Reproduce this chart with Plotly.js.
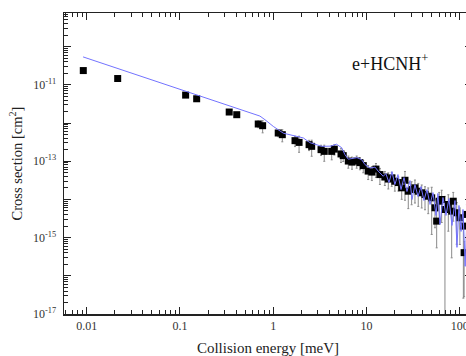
<!DOCTYPE html>
<html>
<head>
<meta charset="utf-8">
<script src="https://cdn.plot.ly/plotly-3.0.1.min.js"></script>
<style>
html,body{margin:0;padding:0;overflow:hidden;background:#fff;width:466px;height:356px;}
#chart{width:480px;height:356px;}
</style>
</head>
<body>
<div id="chart"></div>
<script>
// Measured cross sections (collision energy in meV, cross section in cm^2)
var expEnergy = [0.0092,0.0215,0.115,0.151,0.337,0.406,0.690,0.769,1.13,1.25,1.71,1.89,2.42,2.58,3.25,3.52,4.23,4.51,5.32,5.62,6.37,6.98,7.83,8.49,9.22,10.4,11.4,12.6,13.9,15.7,17.1,18.6,20.1,21.9,23.8,25.8,28.0,30.4,33.0,35.8,39.0,42.3,45.8,49.9,54.1,56.4,60.1,63.8,69.2,75.2,81.7,84.9,92.5,100,109,111,119];
var expSigma = [2.36e-11,1.46e-11,5.38e-12,4.31e-12,1.94e-12,1.65e-12,9.42e-13,8.51e-13,5.48e-13,4.95e-13,3.45e-13,3.11e-13,2.71e-13,2.45e-13,2.01e-13,1.81e-13,1.81e-13,2.07e-13,1.55e-13,1.40e-13,1.01e-13,9.47e-14,1.01e-13,9.18e-14,7.67e-14,5.52e-14,5.19e-14,6.22e-14,4.47e-14,3.85e-14,3.41e-14,3.66e-14,2.99e-14,2.76e-14,2.01e-14,3.17e-14,1.64e-14,1.81e-14,2.01e-14,1.64e-14,1.49e-14,1.34e-14,1.21e-14,1.10e-14,6.04e-15,2.70e-15,8.97e-15,9.93e-15,5.45e-15,7.36e-15,4.92e-15,8.97e-15,4.47e-15,3.31e-15,2.00e-15,4.04e-16,4.04e-15];
// relative uncertainty of each measurement
var expRelErr = [0.05,0.05,0.05,0.05,0.1,0.1,0.2,0.35,0.2,0.35,0.3,0.45,0.3,0.45,0.3,0.45,0.4,0.3,0.4,0.3,0.35,0.35,0.35,0.35,0.35,0.4,0.4,0.4,0.45,0.4,0.45,0.4,0.45,0.4,0.5,0.7,0.65,0.6,0.6,0.6,0.6,0.6,0.65,0.89,0.7,0.8,0.7,0.75,1.2,0.8,0.94,0.7,0.85,0.8,0.987,0.93,0.8];

// Theoretical cross section
var thEnergy = [0.00915,0.0611,0.719,0.815,1.0,1.28,1.71,2.10,2.47,3.30,4.15,4.75,5.41,5.86,6.37,7.15,7.89,8.85,9.61,10.9,12.3,13.3,15.1,16.1,17.4,18.7,20.1,21.7,23.4,25.2,27.1,29.2,30.7,33.0,35.6,38.3,41.2,44.4,47.9,51.5,55.5,58.2,61.2,65.9,71.0,76.4,82.3,88.7,93.1,97.8,103,108,114,119];
var thSigma = [5.38e-11,1.15e-11,1.52e-12,1.22e-12,8.15e-13,5.42e-13,4.47e-13,4.06e-13,3.06e-13,2.45e-13,2.48e-13,2.79e-13,2.26e-13,1.49e-13,1.13e-13,1.17e-13,1.24e-13,1.10e-13,8.15e-14,6.61e-14,7.02e-14,5.52e-14,4.04e-14,4.74e-14,2.76e-14,5.35e-14,2.45e-14,4.47e-14,1.81e-14,3.73e-14,1.61e-14,3.11e-14,9.93e-15,2.45e-14,1.19e-14,2.17e-14,9.35e-15,1.81e-14,7.36e-15,1.51e-14,3.80e-15,1.43e-14,2.21e-15,1.12e-14,3.80e-15,1.05e-14,2.08e-15,9.35e-15,5.55e-16,6.93e-15,1.45e-15,5.45e-15,1.77e-16,3.36e-15];

var xTickVals = [0.01,0.1,1,10,100];
var xTickText = ['0.01','0.1','1','10','100'];
var yTickVals = [1e-17,1e-15,1e-13,1e-11];
var yTickText = ['10<sup>-17</sup>','10<sup>-15</sup>','10<sup>-13</sup>','10<sup>-11</sup>'];
var yUnlabeledVals = [1e-16,1e-14,1e-12,1e-10];

var expErr = expSigma.map(function(s,i){return s*expRelErr[i];});

var font = 'Liberation Serif, Times New Roman, serif';
var yRange = [-17, -9.12];

var traces = [
  {
    x: expEnergy, y: expSigma, type: 'scatter', mode: 'markers',
    marker: {symbol: 'square', size: 7, color: '#000'},
    error_y: {type: 'data', array: expErr, visible: true, color: '#8a8a8a', thickness: 1, width: 1},
    showlegend: false, hoverinfo: 'skip'
  },
  {
    x: thEnergy, y: thSigma, type: 'scatter', mode: 'lines',
    line: {color: 'rgb(115,115,255)', width: 1},
    showlegend: false, hoverinfo: 'skip'
  },
  {x: [], y: [], yaxis: 'y2', type: 'scatter', mode: 'markers', showlegend: false, hoverinfo: 'skip'}
];

var axisCommon = {
  type: 'log', showgrid: false, zeroline: false, color: '#222',
  showline: true, linecolor: '#222', linewidth: 1.5, mirror: 'ticks',
  ticks: 'inside', ticklen: 7, tickwidth: 1, tickcolor: '#222',
  tickfont: {family: font, size: 12, color: '#333'},
  minor: {dtick: 'D1', ticks: 'inside', ticklen: 4, tickcolor: '#222', showgrid: false}
};

var layout = {
  width: 480, height: 356,
  margin: {l: 64, r: 8, t: 13, b: 42},
  paper_bgcolor: '#fff', plot_bgcolor: '#fff',
  font: {family: font, color: '#222'},
  xaxis: Object.assign({}, axisCommon, {
    range: [-2.243, 2.130],
    tickmode: 'array', tickvals: xTickVals, ticktext: xTickText,
    title: {text: 'Collision energy [meV]', font: {family: font, size: 15, color: '#222'}, standoff: 12}
  }),
  yaxis: Object.assign({}, axisCommon, {
    range: yRange,
    tickmode: 'array', tickvals: yTickVals, ticktext: yTickText,
    ticklabelstandoff: 4,
    title: {text: 'Cross section [cm<sup>2</sup>]', font: {family: font, size: 14.5, color: '#222'}, standoff: 7}
  }),
  yaxis2: {
    type: 'log', overlaying: 'y', side: 'left', range: yRange, color: '#222',
    showgrid: false, zeroline: false, showline: false, showticklabels: false,
    tickmode: 'array', tickvals: yUnlabeledVals,
    ticks: 'inside', ticklen: 7, tickwidth: 1, tickcolor: '#222', mirror: 'ticks'
  },
  annotations: [{
    text: 'e+HCNH<sup>+</sup>', xref: 'paper', yref: 'paper',
    x: 0.80, y: 0.834, xanchor: 'center', yanchor: 'middle', showarrow: false,
    font: {family: font, size: 18, color: '#111'}
  }]
};

Plotly.newPlot('chart', traces, layout, {staticPlot: true, displayModeBar: false});
</script>
</body>
</html>
